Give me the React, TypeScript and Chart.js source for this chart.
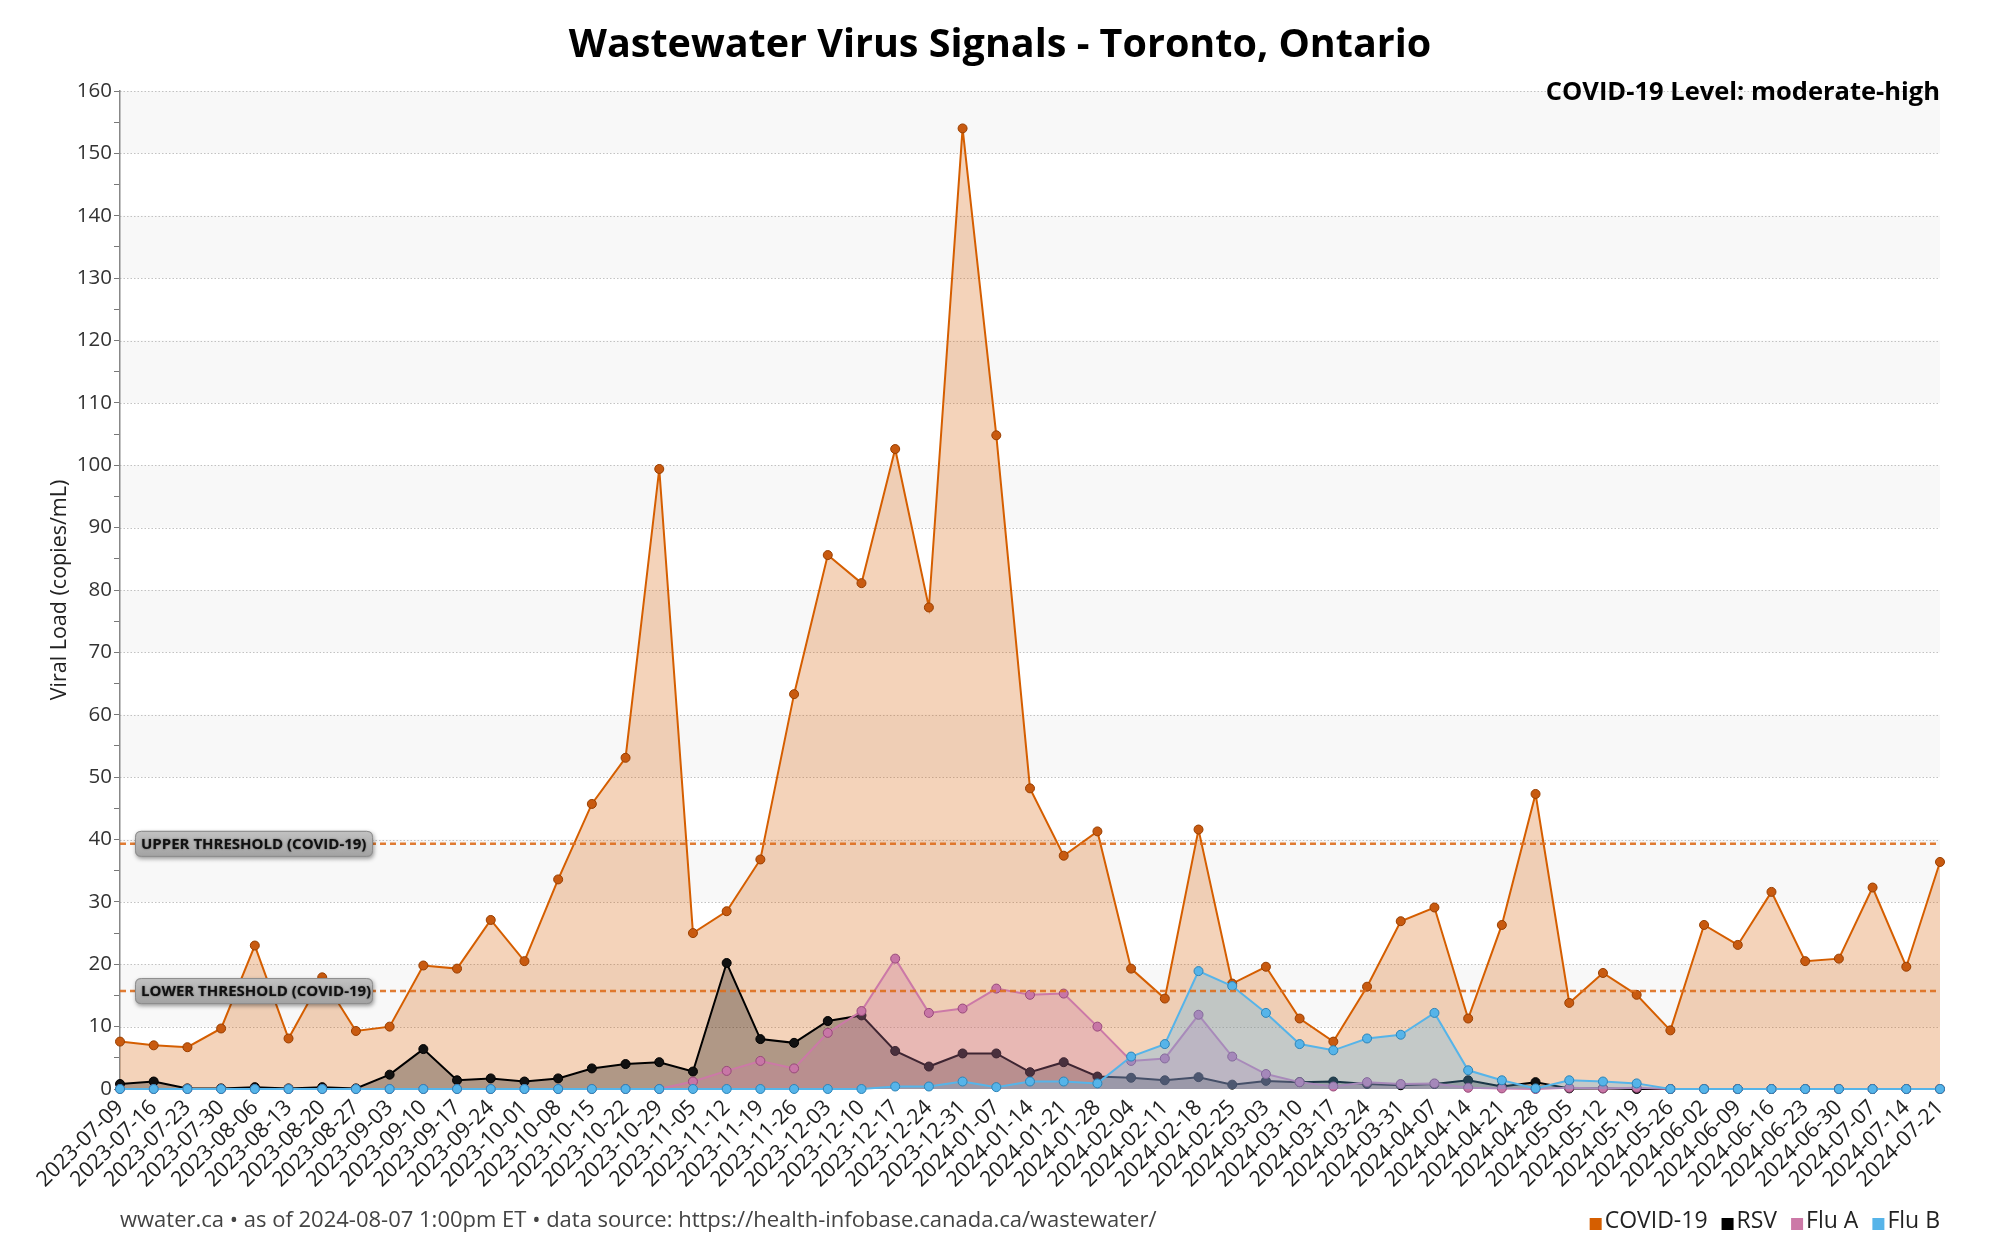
import React, { useEffect, useRef } from "react";
import { Chart, registerables } from "chart.js";
Chart.register(...registerables);

const FONT = '"Open Sans", "Noto Sans", sans-serif';

const dates = [
  "2023-07-09", "2023-07-16", "2023-07-23", "2023-07-30", "2023-08-06", "2023-08-13", "2023-08-20", "2023-08-27",
  "2023-09-03", "2023-09-10", "2023-09-17", "2023-09-24", "2023-10-01", "2023-10-08", "2023-10-15", "2023-10-22",
  "2023-10-29", "2023-11-05", "2023-11-12", "2023-11-19", "2023-11-26", "2023-12-03", "2023-12-10", "2023-12-17",
  "2023-12-24", "2023-12-31", "2024-01-07", "2024-01-14", "2024-01-21", "2024-01-28", "2024-02-04", "2024-02-11",
  "2024-02-18", "2024-02-25", "2024-03-03", "2024-03-10", "2024-03-17", "2024-03-24", "2024-03-31", "2024-04-07",
  "2024-04-14", "2024-04-21", "2024-04-28", "2024-05-05", "2024-05-12", "2024-05-19", "2024-05-26", "2024-06-02",
  "2024-06-09", "2024-06-16", "2024-06-23", "2024-06-30", "2024-07-07", "2024-07-14", "2024-07-21",
];

const covid = [
  7.6, 7.0, 6.7, 9.7, 23.0, 8.1, 17.9, 9.3, 10.0, 19.8,
  19.3, 27.1, 20.5, 33.6, 45.7, 53.1, 99.4, 25.0, 28.5, 36.8,
  63.3, 85.6, 81.1, 102.6, 77.2, 154.0, 104.8, 48.2, 37.4, 41.3,
  19.3, 14.5, 41.6, 16.9, 19.6, 11.3, 7.6, 16.4, 26.9, 29.1,
  11.3, 26.3, 47.3, 13.8, 18.6, 15.1, 9.4, 26.3, 23.1, 31.6,
  20.5, 20.9, 32.3, 19.6, 36.4,
];

const rsv = [
  0.8, 1.2, 0.1, 0.1, 0.3, 0.1, 0.3, 0.1, 2.3, 6.4,
  1.4, 1.7, 1.2, 1.7, 3.3, 4.0, 4.3, 2.8, 20.2, 8.0,
  7.4, 10.9, 11.8, 6.1, 3.6, 5.7, 5.7, 2.7, 4.3, 2.0,
  1.8, 1.4, 1.9, 0.7, 1.3, 1.1, 1.2, 0.8, 0.6, 0.8,
  1.4, 0.4, 1.1, 0.1, 0.1, 0, 0, 0, 0, 0,
  0, 0, 0, 0, 0,
];

const fluA = [
  0, 0, 0, 0, 0, 0, 0, 0, 0, 0,
  0, 0, 0, 0, 0, 0, 0, 1.2, 2.9, 4.5,
  3.3, 9.0, 12.5, 20.9, 12.2, 12.9, 16.1, 15.1, 15.3, 10.0,
  4.5, 4.9, 11.9, 5.2, 2.4, 1.1, 0.4, 1.1, 0.8, 0.9,
  0.2, 0.1, 0, 0.2, 0.1, 0.2, 0, 0, 0, 0,
  0, 0, 0, 0, 0,
];

const fluB = [
  0, 0, 0, 0, 0, 0, 0, 0, 0, 0,
  0, 0, 0, 0, 0, 0, 0, 0, 0, 0,
  0, 0, 0, 0.4, 0.4, 1.2, 0.3, 1.2, 1.2, 0.9,
  5.2, 7.2, 18.9, 16.5, 12.2, 7.2, 6.2, 8.1, 8.7, 12.2,
  3.0, 1.4, 0.1, 1.4, 1.2, 0.9, 0, 0, 0, 0,
  0, 0, 0, 0, 0,
];

const upperThreshold = 39.3;
const lowerThreshold = 15.7;
const yMax = 160;

const titleText = "Wastewater Virus Signals - Toronto, Ontario";
const levelText = "COVID-19 Level: moderate-high";
const yTitle = "Viral Load (copies/mL)";
const footerText = "wwater.ca \u2022 as of 2024-08-07 1:00pm ET \u2022 data source: https://health-infobase.canada.ca/wastewater/";
const seriesNames = ["COVID-19", "RSV", "Flu A", "Flu B"];
const seriesColors = ["#d55e00", "#000000", "#cc79a7", "#56b4e9"];

function roundRect(ctx: CanvasRenderingContext2D, x: number, y: number, w: number, h: number, r: number) {
  ctx.beginPath();
  ctx.moveTo(x + r, y);
  ctx.lineTo(x + w - r, y);
  ctx.quadraticCurveTo(x + w, y, x + w, y + r);
  ctx.lineTo(x + w, y + h - r);
  ctx.quadraticCurveTo(x + w, y + h, x + w - r, y + h);
  ctx.lineTo(x + r, y + h);
  ctx.quadraticCurveTo(x, y + h, x, y + h - r);
  ctx.lineTo(x, y + r);
  ctx.quadraticCurveTo(x, y, x + r, y);
  ctx.closePath();
}

const bgPlugin = {
  id: "bgBands",
  beforeDraw(chart: any) {
    const { ctx, chartArea: a, scales } = chart;
    const y = scales.y;
    ctx.save();
    ctx.fillStyle = "#ffffff";
    ctx.fillRect(0, 0, chart.width, chart.height);
    for (let v = 0; v < yMax; v += 10) {
      if ((v / 10) % 2 === 1) {
        const t = y.getPixelForValue(v + 10);
        const b = y.getPixelForValue(v);
        ctx.fillStyle = "#f8f8f8";
        ctx.fillRect(a.left, t, a.right - a.left, b - t);
      }
    }
    ctx.strokeStyle = "#c2c2c2";
    ctx.lineWidth = 1;
    ctx.setLineDash([1.5, 2]);
    for (let v = 10; v <= yMax; v += 10) {
      const py = Math.round(y.getPixelForValue(v)) + 0.5;
      ctx.beginPath();
      ctx.moveTo(a.left, py);
      ctx.lineTo(a.right, py);
      ctx.stroke();
    }
    ctx.restore();
  },
};

const overlayPlugin = {
  id: "overlay",
  afterDatasetsDraw(chart: any) {
    const { ctx, chartArea: a, scales } = chart;
    const y = scales.y;
    ctx.save();
    [upperThreshold, lowerThreshold].forEach((t) => {
      const py = y.getPixelForValue(t);
      ctx.strokeStyle = "rgba(221,110,30,0.9)";
      ctx.lineWidth = 2.5;
      ctx.setLineDash([6, 4]);
      ctx.beginPath();
      ctx.moveTo(a.left, py);
      ctx.lineTo(a.right, py);
      ctx.stroke();
    });
    ctx.setLineDash([]);
    const labels = [
      { v: upperThreshold, text: "UPPER THRESHOLD (COVID-19)" },
      { v: lowerThreshold, text: "LOWER THRESHOLD (COVID-19)" },
    ];
    labels.forEach((l) => {
      const py = y.getPixelForValue(l.v);
      const bx = a.left + 15;
      const bw = 238;
      const bh = 26;
      const by = py - bh / 2;
      ctx.save();
      ctx.shadowColor = "rgba(0,0,0,0.4)";
      ctx.shadowBlur = 4;
      ctx.shadowOffsetX = 1;
      ctx.shadowOffsetY = 2;
      const g = ctx.createLinearGradient(0, by, 0, by + bh);
      g.addColorStop(0, "#c2c2c2");
      g.addColorStop(1, "#a2a2a2");
      ctx.fillStyle = g;
      roundRect(ctx, bx, by, bw, bh, 6);
      ctx.fill();
      ctx.restore();
      ctx.strokeStyle = "#8c8c8c";
      ctx.lineWidth = 1;
      roundRect(ctx, bx + 0.5, by + 0.5, bw - 1, bh - 1, 6);
      ctx.stroke();
      ctx.save();
      ctx.shadowColor = "rgba(0,0,0,0.5)";
      ctx.shadowBlur = 2;
      ctx.fillStyle = "#111";
      ctx.font = `bold 15px ${FONT}`;
      ctx.textAlign = "left";
      ctx.textBaseline = "middle";
      ctx.fillText(l.text, bx + 6, py + 1);
      ctx.restore();
    });
    ctx.fillStyle = "#000";
    ctx.font = `bold 25.5px ${FONT}`;
    ctx.textAlign = "right";
    ctx.textBaseline = "middle";
    ctx.fillText(levelText, a.right, a.top + 2);
    ctx.restore();
  },
  afterDraw(chart: any) {
    const { ctx, chartArea: a } = chart;
    ctx.save();
    ctx.fillStyle = "#000";
    ctx.font = `bold 39.5px ${FONT}`;
    ctx.textAlign = "center";
    ctx.textBaseline = "middle";
    ctx.fillText(titleText, chart.width / 2, 46);
    ctx.save();
    ctx.translate(60, (a.top + a.bottom) / 2);
    ctx.rotate(-Math.PI / 2);
    ctx.font = `21.5px ${FONT}`;
    ctx.fillStyle = "#222";
    ctx.textAlign = "center";
    ctx.textBaseline = "middle";
    ctx.fillText(yTitle, 0, 0);
    ctx.restore();
    ctx.font = `22px ${FONT}`;
    ctx.fillStyle = "#444";
    ctx.textAlign = "left";
    ctx.textBaseline = "middle";
    ctx.fillText(footerText, a.left, 1221);
    ctx.font = `23px ${FONT}`;
    const sq = 12;
    const gapIn = 3;
    const gapOut = 14;
    const widths = seriesNames.map((n) => sq + gapIn + ctx.measureText(n).width);
    const total = widths.reduce((s, w) => s + w, 0) + gapOut * (seriesNames.length - 1);
    let x = a.right - total;
    seriesNames.forEach((n, i) => {
      ctx.fillStyle = seriesColors[i];
      ctx.fillRect(x, 1221 - sq / 2 + 3, sq, sq);
      ctx.fillStyle = "#222";
      ctx.textAlign = "left";
      ctx.fillText(n, x + sq + gapIn, 1221);
      x += widths[i] + gapOut;
    });
    ctx.restore();
  },
};

export default function App() {
  const ref = useRef<HTMLCanvasElement>(null);
  useEffect(() => {
    const canvas = ref.current!;
    const mk = (label: string, data: number[], line: string, fill: string, pBg: string, pBorder: string, order: number) => ({
      label,
      data,
      borderColor: line,
      backgroundColor: fill,
      borderWidth: 2,
      fill: "origin",
      tension: 0,
      pointRadius: 4.5,
      pointBackgroundColor: pBg,
      pointBorderColor: pBorder,
      pointBorderWidth: 1,
      clip: false as any,
      order,
    });
    const chart = new Chart(canvas, {
      type: "line",
      data: {
        labels: dates,
        datasets: [
          mk("COVID-19", covid, "#d55e00", "rgba(213,94,0,0.27)", "#c85a10", "#9a3f00", 4),
          mk("RSV", rsv, "#000000", "rgba(0,0,0,0.28)", "#111111", "#000000", 3),
          mk("Flu A", fluA, "#cc79a7", "rgba(204,121,167,0.3)", "#c876a6", "#98497a", 2),
          mk("Flu B", fluB, "#56b4e9", "rgba(86,180,233,0.3)", "#56b4e9", "#2c84b8", 1),
        ] as any,
      },
      options: {
        responsive: false,
        animation: false,
        devicePixelRatio: 1,
        layout: { padding: { top: 91, right: 60, left: 0, bottom: 0 } },
        plugins: {
          legend: { display: false },
          title: { display: false },
          tooltip: { enabled: false },
        },
        scales: {
          x: {
            offset: false,
            grid: { display: false, drawTicks: false },
            border: { display: false },
            ticks: {
              autoSkip: false,
              maxRotation: 45,
              minRotation: 45,
              padding: 6,
              color: "#222",
              font: { family: FONT, size: 21.5 },
            },
            afterFit: (s: any) => {
              s.height = 161;
            },
          },
          y: {
            min: 0,
            max: yMax,
            ticks: {
              stepSize: 5,
              callback: (v: any) => (Number(v) % 10 === 0 ? String(v) : ""),
              color: "#333",
              font: { family: FONT, size: 20.5 },
              padding: 2,
            },
            grid: { drawOnChartArea: false, drawTicks: true, tickLength: 6, tickColor: "#777" },
            border: { display: true, color: "#888", width: 1.5 },
            afterFit: (s: any) => {
              s.width = 120;
            },
          },
        },
      } as any,
      plugins: [bgPlugin, overlayPlugin],
    });
    return () => chart.destroy();
  }, []);
  return (
    <div style={{ position: "absolute", left: 0, top: 0, width: 2000, height: 1250, background: "#fff" }}>
      <canvas ref={ref} width={2000} height={1250} style={{ width: 2000, height: 1250 }} />
    </div>
  );
}
